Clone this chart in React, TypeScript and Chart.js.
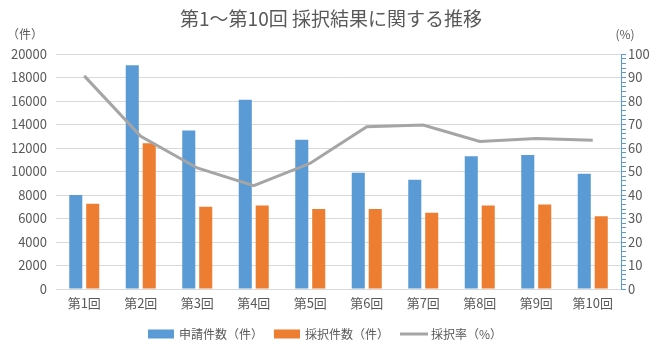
import React, { useEffect, useRef } from "react";
import { Chart, registerables } from "chart.js";

Chart.register(...registerables);

const categories = ["第1回", "第2回", "第3回", "第4回", "第5回", "第6回", "第7回", "第8回", "第9回", "第10回"];
const applications = [8000, 19050, 13500, 16100, 12700, 9900, 9300, 11300, 11400, 9800];
const adoptions = [7250, 12400, 7000, 7100, 6800, 6800, 6500, 7100, 7200, 6200];
const adoptionRate = [90.7, 65.0, 51.5, 44.0, 53.5, 69.0, 69.8, 62.8, 64.0, 63.3];

const titleText = "第1～第10回 採択結果に関する推移";
const leftUnit = "（件）";
const rightUnit = "(%)";
const seriesNames = ["申請件数（件）", "採択件数（件）", "採択率（%）"];

const BLUE = "#5B9BD5";
const ORANGE = "#ED7D31";
const GRAY = "#A5A5A5";
const TEXT = "#595959";
const GRID = "#D9D9D9";
const FONT = '"Noto Sans CJK JP", "Noto Sans", sans-serif';

const overlayPlugin = {
  id: "overlay",
  afterDraw(chart: any) {
    const ctx = chart.ctx as CanvasRenderingContext2D;
    ctx.save();
    ctx.fillStyle = TEXT;
    ctx.textBaseline = "middle";
    // title
    ctx.font = `19px ${FONT}`;
    ctx.textAlign = "center";
    ctx.fillText(titleText, 331, 19);
    // units
    ctx.font = `12px ${FONT}`;
    ctx.fillText(leftUnit, 25, 34);
    ctx.fillText(rightUnit, 625, 34);
    // legend
    ctx.font = `12px ${FONT}`;
    ctx.textAlign = "left";
    const colors = [BLUE, ORANGE, GRAY];
    const symW = 26;
    const gapSymText = 5;
    const gapItems = 11;
    const widths = seriesNames.map((s) => ctx.measureText(s).width);
    let total = 0;
    widths.forEach((w, i) => {
      total += symW + gapSymText + w + (i < widths.length - 1 ? gapItems : 0);
    });
    let x = 325 - total / 2;
    const y = 334;
    seriesNames.forEach((s, i) => {
      if (i < 2) {
        ctx.fillStyle = colors[i];
        ctx.fillRect(x, y - 4.5, symW, 9);
      } else {
        ctx.strokeStyle = colors[i];
        ctx.lineWidth = 3;
        ctx.beginPath();
        ctx.moveTo(x, y);
        ctx.lineTo(x + symW + 2, y);
        ctx.stroke();
      }
      ctx.fillStyle = TEXT;
      ctx.fillText(s, x + symW + gapSymText, y);
      x += symW + gapSymText + widths[i] + gapItems;
    });
    ctx.restore();
  },
};

export default function App() {
  const ref = useRef<HTMLCanvasElement | null>(null);
  useEffect(() => {
    document.body.style.margin = "0";
    if (!ref.current) return;
    const chart = new Chart(ref.current, {
      type: "bar",
      data: {
        labels: categories,
        datasets: [
          {
            type: "line",
            label: seriesNames[2],
            data: adoptionRate,
            borderColor: GRAY,
            backgroundColor: GRAY,
            borderWidth: 3,
            pointRadius: 0,
            tension: 0,
            yAxisID: "y1",
            order: 0,
          },
          {
            type: "bar",
            label: seriesNames[0],
            data: applications,
            backgroundColor: BLUE,
            categoryPercentage: 0.6,
            barPercentage: 0.77,
            yAxisID: "y",
            order: 1,
          },
          {
            type: "bar",
            label: seriesNames[1],
            data: adoptions,
            backgroundColor: ORANGE,
            categoryPercentage: 0.6,
            barPercentage: 0.77,
            yAxisID: "y",
            order: 1,
          },
        ] as any,
      },
      options: {
        responsive: false,
        animation: false,
        layout: { padding: { top: 54, left: 0, right: 0, bottom: 0 } },
        plugins: {
          legend: { display: false },
          title: { display: false },
          tooltip: { enabled: false },
        },
        scales: {
          x: {
            grid: { display: false, drawTicks: false },
            border: { color: GRID, width: 1 },
            ticks: { color: TEXT, font: { family: FONT, size: 13 }, padding: 6 },
            afterFit: (s: any) => {
              s.height = 68;
            },
          },
          y: {
            position: "left",
            min: 0,
            max: 20000,
            ticks: {
              stepSize: 2000,
              color: TEXT,
              font: { family: FONT, size: 13 },
              padding: 9,
              callback: (v: any) => String(v),
            },
            grid: { color: GRID, drawTicks: false },
            border: { display: false },
            afterFit: (s: any) => {
              s.width = 56;
            },
          },
          y1: {
            position: "right",
            min: 0,
            max: 100,
            ticks: {
              stepSize: 2,
              autoSkip: false,
              color: TEXT,
              font: { family: FONT, size: 13 },
              padding: 2,
              callback: (v: any) => (Number(v) % 10 === 0 ? String(v) : ""),
            },
            grid: { drawOnChartArea: false, color: BLUE, tickLength: 5 },
            border: { color: BLUE, width: 1 },
            afterFit: (s: any) => {
              s.width = 46;
            },
          },
        },
      } as any,
      plugins: [overlayPlugin],
    });
    return () => chart.destroy();
  }, []);
  return (
    <div style={{ width: 667, height: 357, background: "#fff" }}>
      <canvas ref={ref} width={667} height={357} style={{ display: "block" }} />
    </div>
  );
}
